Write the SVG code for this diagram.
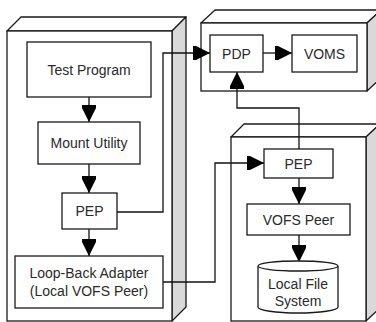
<svg xmlns="http://www.w3.org/2000/svg" width="376" height="322" viewBox="0 0 376 322">
  <style>
    .face { fill: #ffffff; stroke: #1a1a1a; stroke-width: 1.3; }
    .side { fill: #d9d9d9; stroke: #1a1a1a; stroke-width: 1.3; stroke-linejoin: round; }
    .top { fill: #ffffff; stroke: #1a1a1a; stroke-width: 1.3; stroke-linejoin: round; }
    .node { fill: #ffffff; stroke: #1a1a1a; stroke-width: 1.3; }
    .label { font-family: "Liberation Sans", Arial, sans-serif; font-size: 14px; fill: #2a2a2a; text-anchor: middle; dominant-baseline: central; }
    .wire { fill: none; stroke: #111111; stroke-width: 1.3; marker-end: url(#head); }
  </style>
  <defs>
    <marker id="head" markerUnits="userSpaceOnUse" markerWidth="18" markerHeight="16" refX="17" refY="8" orient="auto">
      <path d="M0,1 L3,1 L17,8 L3,15 L0,15 Z" fill="#000000"/>
    </marker>
  </defs>

  <!-- Client machine -->
  <g id="client-host">
    <polygon class="top" points="7,31 21,17 186,17 172,31"/>
    <polygon class="side" points="172,31 186,17 186,307 172,321"/>
    <rect class="face" x="7" y="31" width="165" height="290"/>
  </g>

  <!-- Policy server -->
  <g id="policy-host">
    <polygon class="top" points="201,23 215,10 381,10 367,23"/>
    <polygon class="side" points="367,23 381,10 381,78 367,91"/>
    <rect class="face" x="201" y="23" width="166" height="68"/>
  </g>

  <!-- Storage machine -->
  <g id="storage-host">
    <polygon class="top" points="231,137 244,124 380,124 366,137"/>
    <polygon class="side" points="366,137 380,124 380,308 366,321"/>
    <rect class="face" x="231" y="137" width="135" height="184"/>
  </g>

  <g id="connectors">
    <path class="wire" d="M89,97 V122"/>
    <path class="wire" d="M89,164 V193"/>
    <path class="wire" d="M89,229 V256"/>
    <path class="wire" d="M117,212 H163 V53 H210"/>
    <path class="wire" d="M263,53 H292"/>
    <path class="wire" d="M299,149 V108 H237 V72"/>
    <path class="wire" d="M163,282 H215 V163 H264"/>
    <path class="wire" d="M299,178 V204"/>
    <path class="wire" d="M299,235 V262"/>
  </g>

  <g id="test-program">
    <rect class="node" x="27" y="42" width="124" height="55"/>
    <text class="label" x="89" y="70">Test Program</text>
  </g>

  <g id="mount-utility">
    <rect class="node" x="38" y="122" width="102" height="42"/>
    <text class="label" x="89" y="143">Mount Utility</text>
  </g>

  <g id="pep-client">
    <rect class="node" x="62" y="193" width="55" height="36"/>
    <text class="label" x="89.5" y="211">PEP</text>
  </g>

  <g id="loopback-adapter">
    <rect class="node" x="15" y="256" width="148" height="52"/>
    <text class="label" x="89" y="273">Loop-Back Adapter</text>
    <text class="label" x="89" y="291">(Local VOFS Peer)</text>
  </g>

  <g id="pdp">
    <rect class="node" x="210" y="35" width="53" height="37"/>
    <text class="label" x="236.5" y="53.5">PDP</text>
  </g>

  <g id="voms">
    <rect class="node" x="292" y="35" width="65" height="37"/>
    <text class="label" x="324.5" y="53.5">VOMS</text>
  </g>

  <g id="pep-storage">
    <rect class="node" x="264" y="149" width="69" height="29"/>
    <text class="label" x="298.5" y="163.5">PEP</text>
  </g>

  <g id="vofs-peer">
    <rect class="node" x="247" y="204" width="103" height="31"/>
    <text class="label" x="298.5" y="219.5">VOFS Peer</text>
  </g>

  <g id="local-fs">
    <path class="node" d="M258,266 V307 A40,6 0 0 0 338,307 V266 A40,5 0 0 0 258,266 A40,5 0 0 0 338,266"/>
    <text class="label" x="298" y="284">Local File</text>
    <text class="label" x="298" y="301">System</text>
  </g>
</svg>
